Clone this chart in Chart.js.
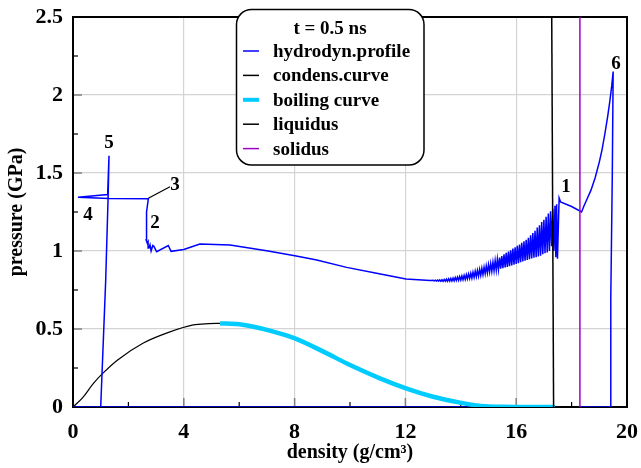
<!DOCTYPE html>
<html><head><meta charset="utf-8">
<script src="https://cdn.jsdelivr.net/npm/chart.js@4"></script>
<style>html,body{margin:0;padding:0;background:#fff}canvas{display:block}</style>
</head><body>
<canvas id="c" width="641" height="468"></canvas>
<script>
const legendTitle = 't = 0.5 ns';
const seriesNames = ['hydrodyn.profile','condens.curve','boiling curve','liquidus','solidus'];
const seriesColors = ['#0000ff','#000000','#00ccff','#000000','#a000c8'];
const xTitle = 'density (g/cm³)';
const yTitle = 'pressure (GPa)';
const xTickLabels = ['0','4','8','12','16','20'];
const yTickLabels = ['0','0.5','1','1.5','2','2.5'];

const profile = [
  [0,0],[17.4,0],[17.8,null],[18.3,0],[19.4,0],
  [19.41,0.35],[19.42,0.7],[19.47,1.5],[19.5,2.15],
  [19.45,2.06],[19.38,1.96],[19.3,1.86],[19.2,1.75],[19.1,1.65],[19.0,1.57],[18.85,1.47],[18.7,1.39],[18.55,1.33],[18.45,1.29],[18.36,1.25],[18.0,1.285],[17.6,1.315],[17.55,1.34],
  [17.49,0.95],[17.46,1.30],[17.43,0.96],[17.40,1.29],[17.36,1.00],[17.32,1.27],[17.28,1.03],[17.24,1.255],[17.20,1.00],[17.16,1.24],
  [17.12,0.99],[17.08,1.22],[17.04,0.985],[17.00,1.20],[16.96,0.98],[16.92,1.185],[16.88,0.97],[16.84,1.165],[16.80,0.965],[16.76,1.15],
  [16.72,0.96],[16.68,1.13],[16.64,0.957],[16.60,1.115],[16.56,0.952],[16.52,1.10],[16.48,0.948],[16.44,1.085],[16.40,0.943],[16.36,1.072],
  [16.32,0.938],[16.28,1.062],[16.24,0.933],[16.20,1.052],[16.16,0.928],[16.12,1.042],[16.08,0.922],[16.04,1.033],[16.00,0.917],[15.96,1.024],
  [15.92,0.912],[15.88,1.015],[15.84,0.907],[15.80,1.005],[15.76,0.902],[15.72,0.996],[15.68,0.898],[15.64,0.988],[15.60,0.894],[15.56,0.978],
  [15.52,0.89],[15.48,0.968],[15.44,0.886],[15.40,0.958],[15.36,0.882],[15.32,0.948],[15.28,0.878],[15.24,0.938],[15.20,0.874],[15.16,0.928],
  [15.12,0.87],[15.08,0.92],[15.04,0.866],[15.00,0.912],[14.96,0.86],[14.92,0.904],[14.88,0.855],[14.84,0.896],[14.80,0.849],[14.76,0.889],
  [14.72,0.844],[14.68,0.882],[14.64,0.839],[14.60,0.876],[14.56,0.835],[14.52,0.87],[14.48,0.831],[14.44,0.864],[14.40,0.827],[14.36,0.858],
  [14.32,0.824],[14.28,0.853],[14.24,0.821],[14.20,0.848],[14.16,0.818],[14.12,0.844],[14.08,0.816],[14.04,0.84],[14.00,0.814],[13.96,0.836],
  [13.92,0.812],[13.88,0.833],[13.84,0.811],[13.80,0.83],[13.76,0.809],[13.72,0.827],[13.68,0.808],[13.64,0.824],[13.60,0.807],[13.56,0.822],
  [13.52,0.806],[13.48,0.82],[13.44,0.806],[13.40,0.818],[13.36,0.806],[13.32,0.816],[13.28,0.806],[13.24,0.815],[13.20,0.807],[13.16,0.814],
  [13.12,0.807],[13.08,0.813],[13.04,0.808],[13.00,0.812],[12.9,0.811],[12.6,0.814],
  [12.02,0.82],[10.96,0.857],[9.88,0.895],[8.8,0.942],[8.01,0.97],[6.99,1.002],[5.67,1.038],[4.58,1.045],[4.0,1.01],
  [3.54,0.998],[3.44,1.035],[3.02,0.995],[2.92,1.03],[2.88,1.035],[2.82,1.0],[2.78,1.04],[2.74,1.02],[2.71,1.06],[2.68,1.05],
  [2.64,1.07],[2.64,1.12],[2.67,1.25],[2.72,1.335],[1.3,1.336],[0.18,1.345],[1.25,1.362],[1.3,1.61],[1.27,1.36],[1.18,0.81],[1.0,0]
];
const condens = [[0,0],[0.35,0.06],[0.73,0.15],[1.1,0.22],[1.6,0.30],[2.54,0.41],[3.4,0.475],[4.34,0.526],[4.9,0.534],[5.31,0.536]];
const boiling = [[5.31,0.536],[6.0,0.53],[6.39,0.519],[7.2,0.485],[8.01,0.44],[9.04,0.355],[10.0,0.269],[11.08,0.184],[12.02,0.12],[13.0,0.066],[13.97,0.028],[14.5,0.012],[15.0,0.004],[15.5,0.001],[16.0,0],[17.4,0]];
const liquidus = [[17.35,0],[17.28,2.6]];
const solidus = [[18.3,0],[18.3,2.6]];
const leader3 = [[2.72,1.338],[3.5,1.412]];
const pointLabels = ['1','2','3','4','5','6'];
const pointLabelX = [17.8,2.96,3.68,0.54,1.30,19.6];
const pointLabelY = [1.41,1.18,1.42,1.23,1.69,2.20];

const toXY = a => a.map(p => ({x:p[0], y:p[1]}));
const FONT = '"Liberation Serif", "Times New Roman", serif';

const frameAndTicks = {
  id:'frameAndTicks',
  beforeDatasetsDraw(chart){
    const {ctx, chartArea:a, scales:{x, y}} = chart;
    ctx.save();
    x.ticks.forEach(t => {
      const px = x.getPixelForValue(t.value);
      const major = xTickLabels.includes(String(t.value));
      if (t.value <= 0 || t.value >= 20) return;
      ctx.strokeStyle = major ? '#808080' : '#000';
      ctx.lineWidth = major ? 1.5 : 1.2;
      ctx.beginPath(); ctx.moveTo(px, a.bottom); ctx.lineTo(px, a.bottom - (major ? 9 : 5)); ctx.stroke();
    });
    y.ticks.forEach(t => {
      const py = y.getPixelForValue(t.value);
      const major = yTickLabels.includes(String(t.value));
      if (t.value <= 0 || t.value >= 2.5) return;
      ctx.strokeStyle = major ? '#808080' : '#000';
      ctx.lineWidth = major ? 1.5 : 1.2;
      ctx.beginPath(); ctx.moveTo(a.left, py); ctx.lineTo(a.left + (major ? 9 : 5), py); ctx.stroke();
    });
    ctx.strokeStyle = '#000';
    ctx.lineWidth = 2;
    ctx.strokeRect(a.left, a.top, a.right - a.left, a.bottom - a.top);
    ctx.restore();
  }
};

const overlay = {
  id:'overlay',
  afterDatasetsDraw(chart){
    const {ctx, scales:{x, y}} = chart;
    ctx.save();
    ctx.fillStyle = '#000';
    ctx.font = 'bold 19px ' + FONT;
    ctx.textAlign = 'center';
    ctx.textBaseline = 'middle';
    pointLabels.forEach((s, i) => {
      ctx.fillText(s, x.getPixelForValue(pointLabelX[i]), y.getPixelForValue(pointLabelY[i]));
    });
    const bx = 236.5, by = 9.5, bw = 187.5, bh = 155.5, r = 15;
    ctx.beginPath();
    ctx.moveTo(bx + r, by);
    ctx.arcTo(bx + bw, by, bx + bw, by + bh, r);
    ctx.arcTo(bx + bw, by + bh, bx, by + bh, r);
    ctx.arcTo(bx, by + bh, bx, by, r);
    ctx.arcTo(bx, by, bx + bw, by, r);
    ctx.closePath();
    ctx.fillStyle = '#fff'; ctx.fill();
    ctx.strokeStyle = '#000'; ctx.lineWidth = 1.5; ctx.stroke();
    ctx.fillStyle = '#000';
    ctx.font = 'bold 19px ' + FONT;
    ctx.textAlign = 'center';
    ctx.fillText(legendTitle, 330, 29);
    ctx.textAlign = 'left';
    chart.data.datasets.forEach(ds => {
      const i = seriesNames.indexOf(ds.label);
      if (i < 0) return;
      const yy = 51 + i * 24.4;
      ctx.strokeStyle = ds.borderColor;
      ctx.lineWidth = i === 2 ? 4 : 1.5;
      ctx.beginPath(); ctx.moveTo(243, yy); ctx.lineTo(259, yy); ctx.stroke();
      ctx.fillStyle = '#000';
      ctx.fillText(ds.label, 273, yy + 1);
    });
    ctx.restore();
  }
};

const base = {showLine:true, pointRadius:0, pointHoverRadius:0, fill:false, spanGaps:false};
new Chart(document.getElementById('c'), {
  type:'scatter',
  data:{datasets:[
    Object.assign({}, base, {label:seriesNames[3], data:toXY(liquidus), borderColor:seriesColors[3], borderWidth:1.5, order:0}),
    Object.assign({}, base, {label:seriesNames[4], data:toXY(solidus), borderColor:seriesColors[4], borderWidth:1.5, order:0}),
    Object.assign({}, base, {label:seriesNames[2], data:toXY(boiling), borderColor:seriesColors[2], borderWidth:4.5, cubicInterpolationMode:'monotone', order:1}),
    Object.assign({}, base, {label:seriesNames[0], data:toXY(profile), borderColor:seriesColors[0], borderWidth:1.5, order:2}),
    Object.assign({}, base, {label:seriesNames[1], data:toXY(condens), borderColor:seriesColors[1], borderWidth:1.2, cubicInterpolationMode:'monotone', order:3}),
    Object.assign({}, base, {label:'leader', data:toXY(leader3), borderColor:'#000', borderWidth:1.2, order:3})
  ]},
  options:{
    responsive:false, animation:false, devicePixelRatio:1,
    layout:{padding:{top:17, right:14, left:0, bottom:0}},
    plugins:{legend:{display:false}, tooltip:{enabled:false}},
    scales:{
      x:{type:'linear', min:0, max:20,
        ticks:{stepSize:2, autoSkip:false, maxRotation:0, padding:12, color:'#000', font:{family:FONT, size:22, weight:'bold'},
          callback:v => xTickLabels.includes(String(v)) ? String(v) : ''},
        grid:{drawTicks:false, lineWidth:1.2, color:c => (xTickLabels.includes(String(c.tick.value)) && c.tick.value>0 && c.tick.value<20) ? '#d4d4d4' : 'rgba(0,0,0,0)'},
        border:{display:false},
        title:{display:true, text:xTitle, color:'#000', font:{family:FONT, size:20, weight:'bold'}, padding:{top:0, bottom:3}},
        afterFit:s => { s.height = 61; s.paddingLeft = 0; s.paddingRight = 0; }
      },
      y:{type:'linear', min:0, max:2.5,
        ticks:{stepSize:0.25, autoSkip:false, padding:10, color:'#000', font:{family:FONT, size:22, weight:'bold'},
          callback:v => yTickLabels.includes(String(v)) ? String(v) : ''},
        grid:{drawTicks:false, lineWidth:1.2, color:c => (yTickLabels.includes(String(c.tick.value)) && c.tick.value>0 && c.tick.value<2.5) ? '#d4d4d4' : 'rgba(0,0,0,0)'},
        border:{display:false},
        title:{display:true, text:yTitle, color:'#000', font:{family:FONT, size:20, weight:'bold'}, padding:{top:5, bottom:0}},
        afterFit:s => { s.width = 73; s.paddingTop = 0; s.paddingBottom = 0; }
      }
    }
  },
  plugins:[frameAndTicks, overlay]
});
</script>
</body></html>
